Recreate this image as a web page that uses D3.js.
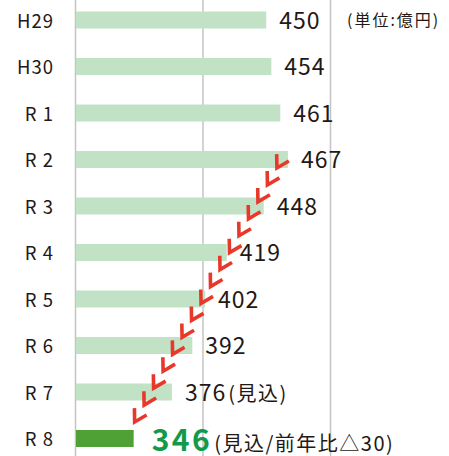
<!DOCTYPE html>
<html>
<head>
<meta charset="utf-8">
<script src="https://cdn.jsdelivr.net/npm/d3@7"></script>
<style>
  body { margin: 0; background: #fff; }
  svg { display: block; }
  text { font-family: "Noto Sans CJK JP", "Noto Sans", sans-serif; fill: #231815; }
</style>
</head>
<body>
<div id="chart"></div>
<script>
var categories = ['H29', 'H30', 'R 1', 'R 2', 'R 3', 'R 4', 'R 5', 'R 6', 'R 7', 'R 8'];
var values = [450, 454, 461, 467, 448, 419, 402, 392, 376, 346];
var notes = ['', '', '', '', '', '', '', '', '(見込)', '(見込/前年比△30)'];
var grid_ticks = [300, 400, 500];
var unit_label = '(単位:億円)';
// the arrow runs from the peak year down to the forecast year
var arrow_from = 'R 2';
var arrow_to = 'R 8';
var arrow_count = 16;

var width = 449, height = 456;
var bar_h = 17;

var svg = d3.select('#chart').append('svg')
    .attr('width', width)
    .attr('height', height);

var x = d3.scaleLinear().domain([300, 500]).range([75, 330]);
var y = d3.scalePoint().domain(categories).range([20, 438.5]);

// vertical grid lines
svg.append('g')
    .attr('transform', 'translate(0,' + height + ')')
    .call(d3.axisBottom(x).tickValues(grid_ticks).tickSize(height).tickFormat(''))
    .call(function(g) {
        g.select('.domain').remove();
        g.selectAll('line')
          .attr('transform', 'scale(1,-1)')
          .attr('stroke', '#c4c4c4')
          .attr('stroke-width', 1.5);
    });

var last = categories[categories.length - 1];

svg.selectAll('rect.bar')
    .data(values)
    .enter()
    .append('rect')
    .attr('class', 'bar')
    .attr('x', x(300) + 1)
    .attr('y', function(d, i) { return y(categories[i]) - bar_h / 2; })
    .attr('width', function(d) { return x(d) - x(300) - 1; })
    .attr('height', bar_h)
    .attr('fill', function(d, i) { return categories[i] === last ? '#4fa035' : '#c2e2c6'; });

// category labels
svg.selectAll('text.cat')
    .data(categories)
    .enter()
    .append('text')
    .attr('class', 'cat')
    .attr('x', 54)
    .attr('y', function(d) { return y(d) + 7.5; })
    .attr('text-anchor', 'end')
    .style('font-size', '18.5px')
    .style('letter-spacing', '1px')
    .text(function(d) { return d; });

// value labels
var vl = svg.selectAll('text.val')
    .data(values)
    .enter()
    .append('text')
    .attr('class', 'val')
    .attr('x', function(d, i) { return x(d) + (categories[i] === last ? 18 : 13); })
    .attr('y', function(d, i) { return y(categories[i]) + (categories[i] === last ? 12 : 8.5); });

vl.append('tspan')
    .style('font-size', function(d, i) { return categories[i] === last ? '30px' : '23px'; })
    .style('font-weight', function(d, i) { return categories[i] === last ? 'bold' : 'normal'; })
    .style('letter-spacing', function(d, i) { return categories[i] === last ? '2.5px' : '1px'; })
    .style('fill', function(d, i) { return categories[i] === last ? '#129a48' : '#231815'; })
    .text(function(d) { return d; });

vl.append('tspan')
    .attr('dx', 2)
    .style('font-size', '20px')
    .style('letter-spacing', '1.5px')
    .text(function(d, i) { return notes[i]; });

svg.append('text')
    .attr('x', 347)
    .attr('y', 26)
    .style('font-size', '16px')
    .style('letter-spacing', '2px')
    .text(unit_label);

// red chevrons going down from the peak to the forecast
var i0 = categories.indexOf(arrow_from), i1 = categories.indexOf(arrow_to);
var p0 = [x(values[i0]) - 11, y(arrow_from) + bar_h / 2];
var p1 = [x(values[i1]) + 1, y(arrow_to) - bar_h / 2 - 8];
var ang = Math.atan2(p1[1] - p0[1], p1[0] - p0[0]) * 180 / Math.PI;

svg.append('g')
    .selectAll('path')
    .data(d3.range(arrow_count))
    .enter()
    .append('path')
    .attr('transform', function(k) {
        var t = k / (arrow_count - 1);
        var px = p0[0] + (p1[0] - p0[0]) * t;
        var py = p0[1] + (p1[1] - p0[1]) * t;
        return 'translate(' + px + ',' + py + ') rotate(' + ang + ')';
    })
    .attr('d', 'M-12,-7L0,0L-12,7')
    .attr('fill', 'none')
    .attr('stroke', '#e8382a')
    .attr('stroke-width', 3.6)
    .attr('stroke-linejoin', 'miter');
</script>
</body>
</html>
